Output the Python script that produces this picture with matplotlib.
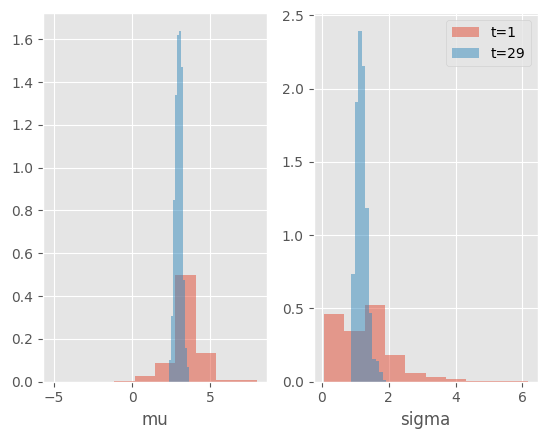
import numpy as np
import matplotlib
matplotlib.use('Agg')
import matplotlib.pyplot as plt

plt.style.use('ggplot')

## BIN EDGES AND DENSITIES
mu_edges_t1 = [-5.06, -3.757, -2.454, -1.151, 0.152, 1.455, 2.758, 4.061, 5.364, 6.667, 7.97]
mu_dens_t1 = [0.0008, 0.0, 0.0, 0.004, 0.027, 0.086, 0.50, 0.134, 0.008, 0.008]

mu_edges_t29 = [2.35, 2.478, 2.606, 2.734, 2.862, 2.99, 3.118, 3.246, 3.374, 3.502, 3.63]
mu_dens_t29 = [0.10, 0.307, 0.85, 1.339, 1.62, 1.64, 1.469, 0.475, 0.156, 0.07]

sigma_edges_t1 = [0.055, 0.665, 1.275, 1.885, 2.495, 3.105, 3.715, 4.325, 4.935, 5.545, 6.155]
sigma_dens_t1 = [0.461, 0.345, 0.522, 0.182, 0.059, 0.032, 0.018, 0.005, 0.005, 0.005]

sigma_edges_t29 = [0.88, 0.985, 1.09, 1.195, 1.30, 1.405, 1.51, 1.615, 1.72, 1.825, 1.93]
sigma_dens_t29 = [0.734, 1.91, 2.396, 2.157, 1.188, 0.466, 0.155, 0.141, 0.066, 0.012]

labels = ['t=1', 't=29']


def draw_hist(ax, edges, dens, label):
    edges = np.array(edges)
    ax.hist(edges[:-1], bins=edges, weights=dens, alpha=0.5, label=label)


fig, (ax_mu, ax_sigma) = plt.subplots(1, 2, figsize=(5.47, 4.36), dpi=100)
fig.subplots_adjust(left=0.0786, right=0.983, bottom=0.1245, top=0.970, wspace=0.208)

draw_hist(ax_mu, mu_edges_t1, mu_dens_t1, labels[0])
draw_hist(ax_mu, mu_edges_t29, mu_dens_t29, labels[1])
ax_mu.set_xlabel('mu')

draw_hist(ax_sigma, sigma_edges_t1, sigma_dens_t1, labels[0])
draw_hist(ax_sigma, sigma_edges_t29, sigma_dens_t29, labels[1])
ax_sigma.set_xlabel('sigma')
ax_sigma.legend()

fig.savefig('out.png', dpi=100)
